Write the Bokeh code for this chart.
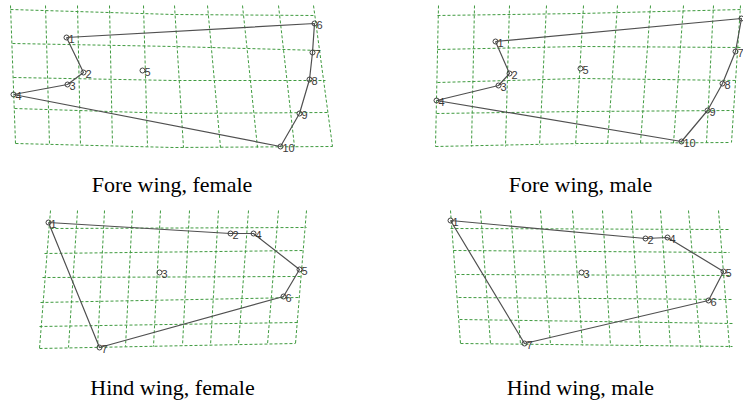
from bokeh.plotting import figure
from bokeh.models import Range1d
from bokeh.embed import file_html
from bokeh.resources import INLINE
from bokeh.core.properties import value

# ---------------- data (reference pixel coordinates) ----------------
# Fore wing, female
FF_LM_X = [66, 83, 67, 13, 142, 314, 312, 309, 299, 280]
FF_LM_Y = [37, 72, 84, 94, 70, 23, 52, 79, 113, 146]
FF_ORDER = [1, 6, 7, 8, 9, 10, 4, 3, 2, 1]
FF_HX = [[10, 173, 314], [12, 173, 320], [13, 173, 325], [14, 173, 328], [15, 173, 332]]
FF_HY = [[9, 14, 15], [43, 46, 50], [77, 80, 80], [108, 113, 112], [143, 147, 146]]
FF_VTX = [10, 45, 77, 109, 143, 174, 207, 242, 278, 313]
FF_VBX = [15, 49, 80, 112, 147, 183, 220, 257, 294, 332]
FF_VTY = [5, 5, 5, 5, 5, 5, 5, 5, 5, 5]
FF_VBY = [143, 144, 145, 145, 146, 147, 147, 147, 146, 146]

# Fore wing, male
FM_LM_X = [495, 509, 498, 436, 580, 741, 735, 722, 707, 681]
FM_LM_Y = [41, 73, 85, 100, 68, 18, 51, 83, 110, 141]
FM_ORDER = [1, 6, 7, 8, 9, 10, 4, 3, 2, 1]
FM_HX = [[437, 580, 742], [437, 580, 740], [437, 580, 737], [436, 580, 733], [435, 580, 730]]
FM_HY = [[15, 13, 9], [49, 46, 47], [82, 78, 80], [113, 111, 110], [146, 143, 142]]
FM_VTX = [438, 474, 509, 546, 583, 617, 650, 683, 713, 740]
FM_VBX = [435, 471, 505, 539, 575, 607, 640, 673, 706, 731]
FM_VTY = [5, 5, 5, 5, 5, 5, 5, 5, 5, 5]
FM_VBY = [146, 146, 146, 145, 145, 144, 143, 143, 142, 142]

# Hind wing, female
HF_LM_X = [48, 230, 159, 253, 299, 283, 99]
HF_LM_Y = [222, 233, 272, 233, 269, 296, 347]
HF_ORDER = [1, 2, 4, 5, 6, 7, 1]
HF_HX = [[50, 306], [44, 303], [42, 300], [40, 298], [39, 297], [39, 295]]
HF_HY = [[228, 227], [253, 250], [277, 276], [302, 297], [326, 322], [348, 343]]
HF_VTX = [50, 77, 104, 132, 160, 189, 218, 248, 278, 306]
HF_VBX = [39, 68, 97, 125, 153, 182, 210, 238, 267, 295]
HF_VTY = [210, 210, 210, 210, 210, 210, 210, 210, 210, 210]
HF_VBY = [348, 347, 347, 346, 346, 345, 345, 344, 344, 343]

# Hind wing, male
HM_LM_X = [450, 645, 581, 667, 723, 708, 524]
HM_LM_Y = [220, 238, 272, 237, 271, 300, 343]
HM_ORDER = [1, 2, 4, 5, 6, 7, 1]
HM_HX = [[450, 728], [453, 729], [456, 730], [458, 731], [459, 732], [460, 732]]
HM_HY = [[228, 229], [250, 252], [274, 275], [297, 299], [319, 323], [343, 346]]
HM_VTX = [450, 480, 510, 540, 572, 602, 631, 660, 688, 718]
HM_VBX = [460, 490, 520, 550, 582, 610, 640, 670, 700, 729]
HM_VTY = [210, 210, 210, 210, 210, 210, 210, 210, 210, 210]
HM_VBY = [343, 343, 344, 344, 345, 345, 346, 346, 347, 347]

CAPTIONS = ["Fore wing, female", "Fore wing, male", "Hind wing, female", "Hind wing, male"]
CAP_X = [171.5, 580, 172, 580]
CAP_Y = [183.5, 183.5, 387, 387]

PANELS = [
    (FF_LM_X, FF_LM_Y, FF_ORDER, FF_HX, FF_HY, FF_VTX, FF_VTY, FF_VBX, FF_VBY),
    (FM_LM_X, FM_LM_Y, FM_ORDER, FM_HX, FM_HY, FM_VTX, FM_VTY, FM_VBX, FM_VBY),
    (HF_LM_X, HF_LM_Y, HF_ORDER, HF_HX, HF_HY, HF_VTX, HF_VTY, HF_VBX, HF_VBY),
    (HM_LM_X, HM_LM_Y, HM_ORDER, HM_HX, HM_HY, HM_VTX, HM_VTY, HM_VBX, HM_VBY),
]

# ---------------- figure ----------------
W, H = 743, 402
p = figure(width=W, height=H, x_range=Range1d(0, W), y_range=Range1d(H, 0),
           output_backend="svg", toolbar_location=None, min_border=0,
           x_axis_location=None, y_axis_location=None)
p.xgrid.visible = False
p.ygrid.visible = False
p.outline_line_color = None
p.background_fill_color = "white"
p.border_fill_color = "white"

GRID_COLOR = "#3f9a3f"
for lx, ly, order, hx, hy, vtx, vty, vbx, vby in PANELS:
    p.multi_line(xs=hx, ys=hy, line_color=GRID_COLOR, line_width=1, line_dash="3 2")
    vxs = [[a, b] for a, b in zip(vtx, vbx)]
    vys = [[a, b] for a, b in zip(vty, vby)]
    p.multi_line(xs=vxs, ys=vys, line_color=GRID_COLOR, line_width=1, line_dash="3 2")
    p.line(x=[lx[i - 1] for i in order], y=[ly[i - 1] for i in order],
           line_color="#505050", line_width=1.2)
    p.scatter(x=lx, y=ly, marker="circle", size=5, fill_color=None,
              line_color="#404040", line_width=1)
    p.text(x=lx, y=ly, text=[str(i + 1) for i in range(len(lx))],
           x_offset=2, y_offset=1.5, text_baseline="middle", text_align="left",
           text_font=value("Liberation Sans"), text_font_size="11px", text_color="#3a3a3a")

p.text(x=CAP_X, y=CAP_Y, text=CAPTIONS, text_align="center", text_baseline="middle",
       text_font=value("Liberation Serif"), text_font_size="22px", text_color="black")

open("out.html", "w").write(file_html(p, INLINE))
